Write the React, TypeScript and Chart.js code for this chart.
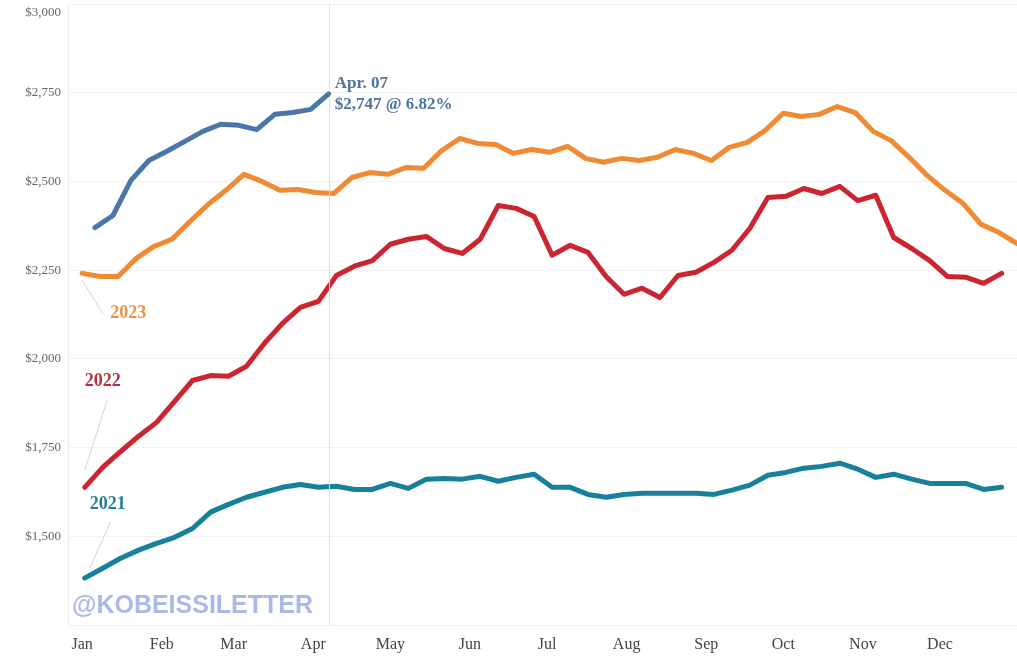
import React, { useEffect, useRef } from "react";
import { Chart, registerables } from "chart.js";

Chart.register(...registerables);

const monthLabels = ["Jan", "Feb", "Mar", "Apr", "May", "Jun", "Jul", "Aug", "Sep", "Oct", "Nov", "Dec"];
const monthStartDays = [0, 31, 59, 90, 120, 151, 181, 212, 243, 273, 304, 334];
const yTickValues = [1250, 1500, 1750, 2000, 2250, 2500, 2750, 3000];

const days2024 = [5, 12, 19, 26, 33, 40, 47, 54, 61, 68, 75, 82, 89, 96];
const values2024 = [2370, 2404, 2503, 2559, 2585, 2613, 2641, 2661, 2658, 2646, 2689, 2694, 2703, 2747];

const days2023 = [0, 7, 14, 21, 28, 35, 42, 49, 56, 63, 70, 77, 84, 91, 98, 105, 112, 119, 126, 133, 140, 147, 154, 161, 168, 175, 182, 189, 196, 203, 210, 217, 224, 231, 238, 245, 252, 259, 266, 273, 280, 287, 294, 301, 308, 315, 322, 329, 336, 343, 350, 357, 364];
const values2023 = [2241, 2232, 2232, 2283, 2317, 2337, 2387, 2435, 2475, 2520, 2500, 2475, 2477, 2469, 2466, 2511, 2525, 2520, 2539, 2537, 2587, 2621, 2607, 2604, 2579, 2590, 2582, 2599, 2565, 2554, 2565, 2559, 2568, 2590, 2579, 2559, 2596, 2610, 2644, 2692, 2683, 2689, 2711, 2694, 2641, 2615, 2568, 2517, 2475, 2438, 2379, 2356, 2325];

const days2122 = [1, 8, 15, 22, 29, 36, 43, 50, 57, 64, 71, 78, 85, 92, 99, 106, 113, 120, 127, 134, 141, 148, 155, 162, 169, 176, 183, 190, 197, 204, 211, 218, 225, 232, 239, 246, 253, 260, 267, 274, 281, 288, 295, 302, 309, 316, 323, 330, 337, 344, 351, 358];
const values2022 = [1638, 1694, 1739, 1782, 1821, 1880, 1939, 1953, 1951, 1979, 2044, 2100, 2145, 2162, 2235, 2261, 2277, 2323, 2337, 2345, 2311, 2297, 2337, 2432, 2424, 2401, 2292, 2320, 2300, 2232, 2182, 2199, 2173, 2235, 2244, 2272, 2306, 2368, 2455, 2458, 2480, 2466, 2486, 2446, 2461, 2342, 2311, 2277, 2232, 2230, 2213, 2241];
const values2021 = [1382, 1410, 1438, 1461, 1480, 1497, 1522, 1568, 1590, 1610, 1624, 1638, 1646, 1638, 1641, 1632, 1632, 1649, 1635, 1661, 1663, 1661, 1669, 1655, 1666, 1675, 1638, 1638, 1618, 1610, 1618, 1621, 1621, 1621, 1621, 1618, 1630, 1644, 1672, 1680, 1692, 1697, 1706, 1689, 1666, 1675, 1661, 1649, 1649, 1649, 1632, 1638];

const annotationDay = 96;
const annotationLines = ["Apr. 07", "$2,747 @ 6.82%"];
const watermark = "@KOBEISSILETTER";

const pts = (days: number[], vals: number[]) => days.map((d, i) => ({ x: d, y: vals[i] }));

const SERIF = "'Liberation Serif', 'Times New Roman', serif";

// label anchor (day/value) and leader line ends (day/value)
const yearLabels = [
  { text: "2023", color: "#ea9248", day: 18, value: 2128, fromDay: 0, fromValue: 2222, toDay: 8, toValue: 2128 },
  { text: "2022", color: "#b8303b", day: 8, value: 1937, fromDay: 1, fromValue: 1685, toDay: 9.8, toValue: 1885 },
  { text: "2021", color: "#1d8296", day: 10, value: 1590, fromDay: 3, fromValue: 1410, toDay: 11, toValue: 1540 },
];

const overlayPlugin = {
  id: "overlay",
  beforeDatasetsDraw(chart: any) {
    const { ctx, chartArea, scales } = chart;
    ctx.save();
    ctx.strokeStyle = "#d2d2d2";
    ctx.lineWidth = 1;
    yearLabels.forEach((l) => {
      ctx.beginPath();
      ctx.moveTo(scales.x.getPixelForValue(l.fromDay), scales.y.getPixelForValue(l.fromValue));
      ctx.lineTo(scales.x.getPixelForValue(l.toDay), scales.y.getPixelForValue(l.toValue));
      ctx.stroke();
    });
    ctx.restore();
  },
  afterDatasetsDraw(chart: any) {
    const { ctx, chartArea, scales } = chart;
    ctx.save();
    ctx.fillStyle = "rgba(255,255,255,0.85)";
    ctx.fillRect(chartArea.left + 1, chartArea.bottom - 36, 250, 34);
    ctx.fillStyle = "#a9b9e8";
    ctx.font = "bold 25px 'Liberation Sans', Arial, sans-serif";
    ctx.textAlign = "left";
    ctx.textBaseline = "middle";
    ctx.fillText(watermark, chartArea.left + 4, chartArea.bottom - 19);

    const x = scales.x.getPixelForValue(annotationDay);
    ctx.strokeStyle = "#dedede";
    ctx.lineWidth = 1;
    ctx.beginPath();
    ctx.moveTo(Math.round(x) + 0.5, chartArea.top);
    ctx.lineTo(Math.round(x) + 0.5, scales.y.getPixelForValue(values2024[values2024.length - 1]) - 4);
    ctx.moveTo(Math.round(x) + 0.5, scales.y.getPixelForValue(values2024[values2024.length - 1]) + 4);
    ctx.lineTo(Math.round(x) + 0.5, chartArea.bottom);
    ctx.stroke();

    const ax = x + 6;
    const ay = scales.y.getPixelForValue(values2024[values2024.length - 1]);
    ctx.fillStyle = "#4d73a0";
    ctx.font = "bold 17px " + SERIF;
    ctx.textAlign = "left";
    ctx.fillText(annotationLines[0], ax, ay - 10);
    ctx.fillText(annotationLines[1], ax, ay + 11);

    ctx.font = "bold 18px " + SERIF;
    ctx.textAlign = "center";
    yearLabels.forEach((l) => {
      ctx.fillStyle = l.color;
      ctx.fillText(l.text, scales.x.getPixelForValue(l.day), scales.y.getPixelForValue(l.value));
    });
    ctx.restore();
  },
  afterDraw(chart: any) {
    const { ctx, chartArea } = chart;
    ctx.save();
    ctx.fillStyle = "#666";
    ctx.font = "13px " + SERIF;
    ctx.textAlign = "right";
    ctx.textBaseline = "middle";
    ctx.fillText("$3,000", chartArea.left - 7, chartArea.top + 9);
    ctx.restore();
  },
};

export default function App() {
  const ref = useRef<HTMLCanvasElement>(null);
  useEffect(() => {
    document.body.style.margin = "0";
    const mk = (label: string, data: any[], color: string) => ({
      label,
      data,
      borderColor: color,
      backgroundColor: color,
      borderWidth: 5,
      pointRadius: 0,
      tension: 0,
      borderCapStyle: "round" as const,
      borderJoinStyle: "round" as const,
    });
    const chart = new Chart(ref.current!, {
      type: "line",
      data: {
        datasets: [
          mk("2021", pts(days2122, values2021), "#17809a"),
          mk("2022", pts(days2122, values2022), "#cc2530"),
          mk("2023", pts(days2023, values2023), "#f08a33"),
          mk("2024", pts(days2024, values2024), "#4a77a8"),
        ],
      },
      options: {
        animation: false,
        responsive: false,
        parsing: false as any,
        layout: { padding: { top: 4, right: 0, left: 0, bottom: 0 } },
        plugins: { legend: { display: false }, tooltip: { enabled: false } },
        scales: {
          x: {
            type: "linear",
            min: -5.5,
            max: 364,
            grid: { display: false },
            border: { display: false },
            afterBuildTicks: (s: any) => {
              s.ticks = monthStartDays.map((d) => ({ value: d }));
            },
            afterFit: (s: any) => {
              s.height = 32;
              s.paddingLeft = 0;
              s.paddingRight = 0;
            },
            ticks: {
              autoSkip: false,
              maxRotation: 0,
              padding: 2,
              color: "#444",
              font: { family: SERIF, size: 16 },
              callback: (v: any) => {
                const i = monthStartDays.indexOf(Number(v));
                return i >= 0 ? monthLabels[i] : "";
              },
            },
          },
          y: {
            type: "linear",
            min: 1250,
            max: 3000,
            afterBuildTicks: (s: any) => {
              s.ticks = yTickValues.map((v) => ({ value: v }));
            },
            afterFit: (s: any) => {
              s.width = 68;
              s.paddingTop = 0;
              s.paddingBottom = 0;
            },
            grid: { color: "#f2f2f2", drawTicks: false },
            border: { display: true, color: "#ededed" },
            ticks: {
              padding: 7,
              color: "#666",
              font: { family: SERIF, size: 13 },
              callback: (v: any) => {
                const n = Number(v);
                return n === 1250 || n === 3000 ? "" : "$" + n.toLocaleString("en-US");
              },
            },
          },
        },
      },
      plugins: [overlayPlugin],
    });
    return () => chart.destroy();
  }, []);
  return (
    <div style={{ position: "absolute", left: 0, top: 0, width: 1017, height: 657 }}>
      <canvas ref={ref} width={1017} height={657} />
    </div>
  );
}
